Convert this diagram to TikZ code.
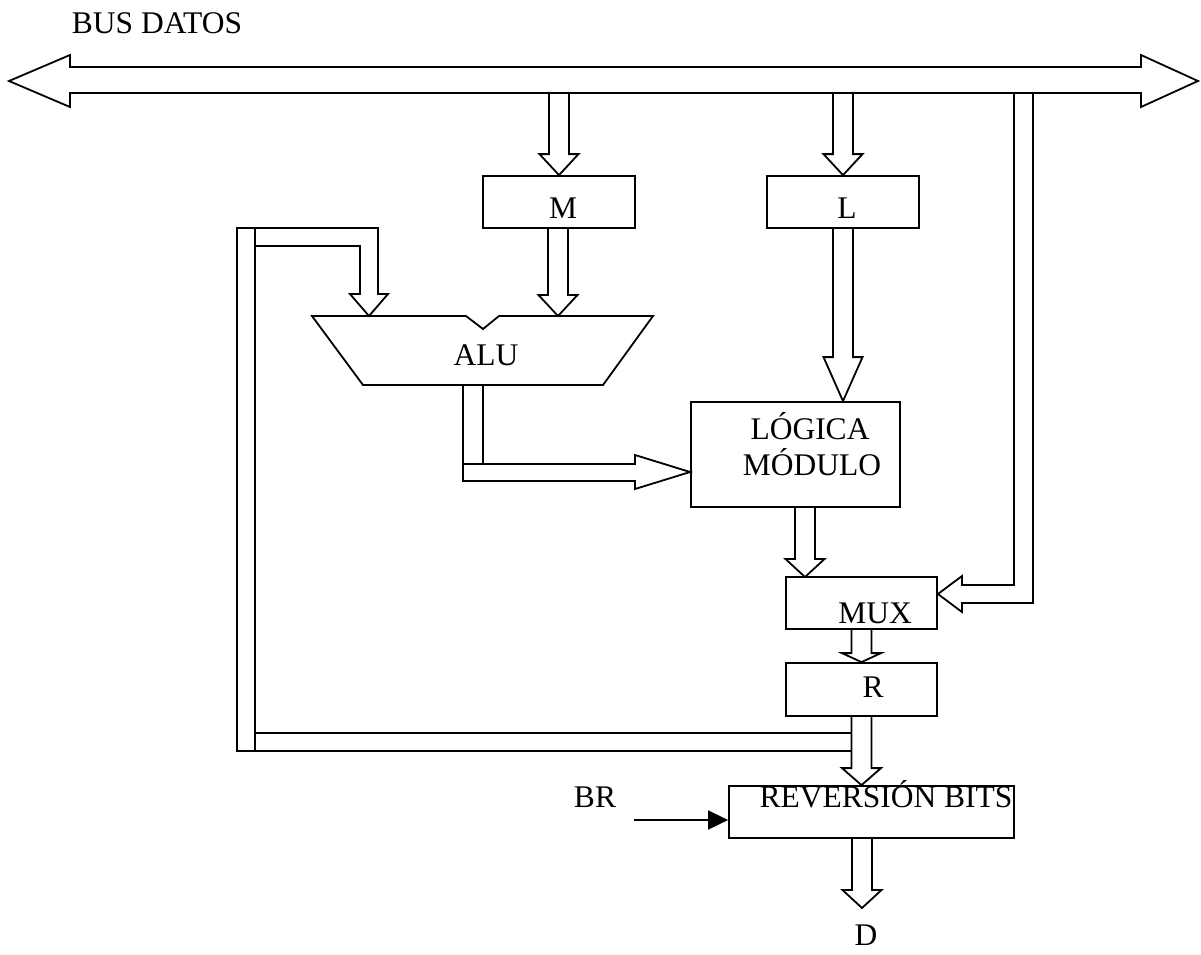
\documentclass[tikz,border=0pt]{standalone}
\usepackage{fontspec}
\setmainfont{Liberation Serif}
\usetikzlibrary{calc,arrows.meta}

\tikzset{
  caja/.style={draw, rectangle, line width=1.8pt, inner sep=0pt},
  bloque/.style={draw, line width=1.8pt, line join=miter},
  texto/.style={inner sep=0pt, anchor=base, font=\fontsize{31.5}{36}\selectfont}
}

% flecha hueca hacia abajo: desde, hasta, largo de la punta
\newcommand{\flecha}[3]{%
  \draw[bloque] let \p1=(#1), \p2=(#2) in
    (\x2-10pt,\y1) -- (\x2-10pt,\y2+#3pt) -- (\x2-19.5pt,\y2+#3pt) -- (\x2,\y2)
    -- (\x2+19.5pt,\y2+#3pt) -- (\x2+10pt,\y2+#3pt) -- (\x2+10pt,\y1);}

\begin{document}
\begin{tikzpicture}[x=1pt,y=-1pt]
          \useasboundingbox (0,0) rectangle (1201,954);

          % Bus de datos
          \draw[bloque] (9,81) -- (70,55) -- (70,67) -- (1141,67) -- (1141,55) -- (1198,81)
            -- (1141,107) -- (1141,93) -- (70,93) -- (70,107) -- cycle;
          \node[texto] (bus) at (157,33) {BUS DATOS};
          \coordinate (busM) at (558,93);
          \coordinate (busL) at (843,93);

          % Bloques
          \node[caja, minimum width=152, minimum height=52] (M) at (559,202) {};
          \node[caja, minimum width=152, minimum height=52] (L) at (843,202) {};
          \node[caja, minimum width=209, minimum height=105] (logica) at (795.5,454.5) {};
          \node[caja, minimum width=151, minimum height=52] (mux) at (861.5,603) {};
          \node[caja, minimum width=151, minimum height=53] (R) at (861.5,689.5) {};
          \node[caja, minimum width=285, minimum height=52] (rev) at (871.5,812) {};

          % ALU
          \draw[bloque] (312,316) -- (466,316) -- (483,329) -- (499,316) -- (653,316)
            -- (603,385) -- (363,385) -- cycle;
          \coordinate (aluA) at (369,316);
          \coordinate (aluB) at (558,316);

          % Textos
          \node[texto] (Mtxt) at (563,218) {M};
          \node[texto] (Ltxt) at (847,218) {L};
          \node[texto] (alu) at (486,365) {ALU};
          \node[texto] (logtxt) at (810,439) {LÓGICA};
          \node[texto] (modtxt) at (812,475) {MÓDULO};
          \node[texto] (muxtxt) at (875,623) {MUX};
          \node[texto] (Rtxt) at (873,697) {R};
          \node[texto] (revtxt) at (886,807) {REVERSIÓN BITS};
          \node[texto] (br) at (595,807) {BR};
          \node[texto] (D) at (866,945) {D};

          % Flechas
          \flecha{busM}{M.north}{21}
          \flecha{M.south}{aluB}{21}
          \flecha{busL}{L.north}{21}
          \flecha{L.south}{L.south |- logica.north}{44}
          \coordinate (muxin) at (805,577);
          \flecha{logica.south}{muxin}{18}
          \flecha{mux.south}{R.north}{9}
          \flecha{R.south}{R.south |- rev.north}{17}
          \coordinate (dfin) at (862,908);
          \flecha{rev.south}{dfin}{18}

          % ALU -> LOGICA MODULO
          \draw[bloque] (463,385) rectangle (483,464);
          \draw[bloque] (463,464) -- (635,464) -- (635,455) -- (logica.west |- 0,472)
            -- (635,489) -- (635,481) -- (463,481) -- cycle;

          % Bus -> MUX
          \draw[bloque] (1014,93) -- (1014,585) -- (962,585) -- (962,576) -- (mux.east |- 0,594)
            -- (962,612) -- (962,603) -- (1033,603) -- (1033,93);

          % Realimentacion R -> ALU
          \draw[bloque] (237,228) rectangle (255,751);
          \draw[bloque] (255,246) -- (360,246) -- (360,294) -- (350,294) -- (aluA)
            -- (388,294) -- (378,294) -- (378,228) -- (255,228);
          \draw[bloque] (255,733) -- (852,733);
          \draw[bloque] (255,751) -- (852,751);

          % Entrada BR
          \coordinate (brini) at (634,820);
          \draw[line width=1.8pt, -{Triangle[length=20pt,width=19pt]}] (brini) -- (rev.west |- brini);
        \end{tikzpicture}
\end{document}
